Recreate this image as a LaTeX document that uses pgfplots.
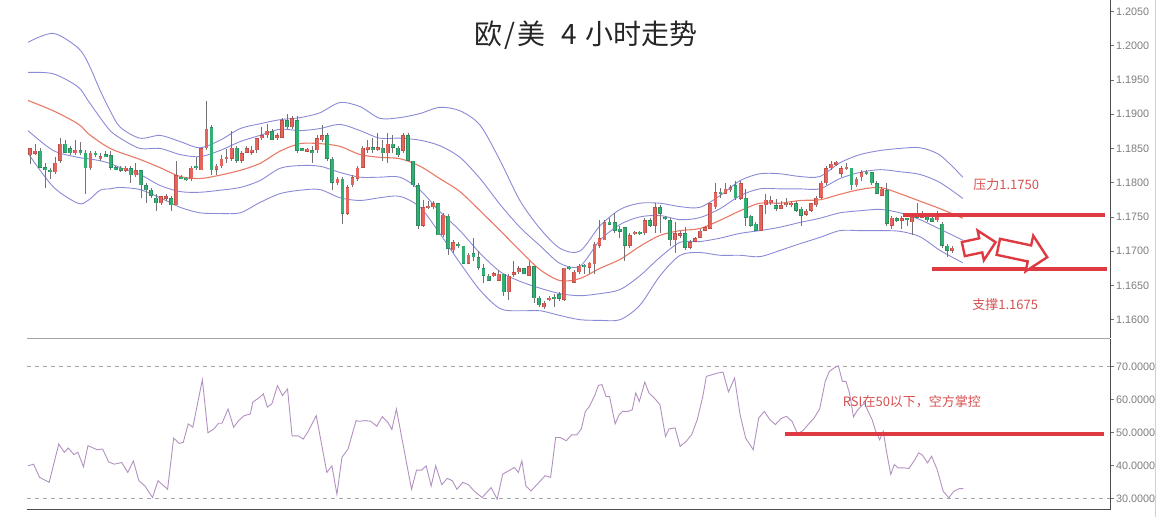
\documentclass[border=0pt]{standalone}
\usepackage{pgfplots}
\pgfplotsset{compat=1.18}
\usepackage{pgfplotstable}
\usepackage{fontspec}
\setmainfont{Liberation Sans}
\newfontfamily\cjk{Noto Sans CJK SC}
\usetikzlibrary{shapes.arrows}

\definecolor{upred}{RGB}{228,100,94}
\definecolor{upedge}{RGB}{190,78,72}
\definecolor{dngreen}{RGB}{48,176,114}
\definecolor{dnedge}{RGB}{44,138,94}
\definecolor{band}{RGB}{138,138,214}
\definecolor{ma}{RGB}{232,122,102}
\definecolor{rsiline}{RGB}{178,145,192}
\definecolor{markred}{RGB}{222,58,66}
\definecolor{note}{RGB}{214,80,80}
\definecolor{ticktext}{RGB}{125,125,125}

% candles: index, open, high, low, close
\pgfplotstableread{
i o h l c
0 1.1840 1.1851 1.1828 1.1850
1 1.1843 1.1857 1.1841 1.1846
2 1.1847 1.1850 1.1821 1.1822
3 1.1822 1.1829 1.1793 1.1819
4 1.1819 1.1822 1.1806 1.1815
5 1.1815 1.1837 1.1813 1.1829
6 1.1832 1.1865 1.1829 1.1857
7 1.1857 1.1862 1.1843 1.1844
8 1.1850 1.1854 1.1840 1.1843
9 1.1843 1.1862 1.1840 1.1848
10 1.1846 1.1860 1.1840 1.1844
11 1.1844 1.1847 1.1784 1.1821
12 1.1821 1.1847 1.1818 1.1844
13 1.1843 1.1847 1.1837 1.1841
14 1.1835 1.1843 1.1832 1.1838
15 1.1841 1.1847 1.1837 1.1838
16 1.1840 1.1847 1.1818 1.1822
17 1.1822 1.1825 1.1818 1.1819
18 1.1821 1.1824 1.1816 1.1818
19 1.1818 1.1824 1.1815 1.1821
20 1.1821 1.1824 1.1799 1.1811
21 1.1811 1.1829 1.1809 1.1818
22 1.1818 1.1818 1.1778 1.1796
23 1.1796 1.1799 1.1771 1.1789
24 1.1790 1.1793 1.1778 1.1781
25 1.1778 1.1784 1.1759 1.1770
26 1.1770 1.1781 1.1767 1.1780
27 1.1777 1.1783 1.1774 1.1780
28 1.1777 1.1780 1.1759 1.1767
29 1.1767 1.1832 1.1767 1.1811
30 1.1808 1.1811 1.1805 1.1806
31 1.1806 1.1809 1.1803 1.1805
32 1.1805 1.1825 1.1803 1.1822
33 1.1825 1.1837 1.1819 1.1821
34 1.1818 1.1851 1.1818 1.1850
35 1.1850 1.1919 1.1847 1.1879
36 1.1881 1.1884 1.1811 1.1818
37 1.1819 1.1828 1.1811 1.1825
38 1.1824 1.1840 1.1822 1.1835
39 1.1835 1.1850 1.1829 1.1837
40 1.1835 1.1876 1.1832 1.1851
41 1.1851 1.1854 1.1829 1.1832
42 1.1832 1.1847 1.1829 1.1843
43 1.1844 1.1854 1.1843 1.1850
44 1.1844 1.1853 1.1841 1.1848
45 1.1847 1.1865 1.1843 1.1865
46 1.1865 1.1881 1.1862 1.1869
47 1.1869 1.1886 1.1865 1.1876
48 1.1875 1.1878 1.1862 1.1863
49 1.1865 1.1872 1.1863 1.1869
50 1.1866 1.1894 1.1865 1.1891
51 1.1891 1.1901 1.1879 1.1881
52 1.1881 1.1898 1.1879 1.1894
53 1.1891 1.1898 1.1843 1.1847
54 1.1850 1.1851 1.1846 1.1847
55 1.1847 1.1851 1.1846 1.1848
56 1.1847 1.1853 1.1829 1.1844
57 1.1847 1.1869 1.1844 1.1865
58 1.1862 1.1884 1.1860 1.1869
59 1.1869 1.1872 1.1832 1.1835
60 1.1835 1.1837 1.1789 1.1800
61 1.1799 1.1809 1.1797 1.1806
62 1.1806 1.1809 1.1740 1.1755
63 1.1755 1.1796 1.1753 1.1793
64 1.1796 1.1811 1.1794 1.1808
65 1.1806 1.1825 1.1803 1.1822
66 1.1822 1.1854 1.1821 1.1851
67 1.1850 1.1862 1.1844 1.1851
68 1.1851 1.1866 1.1843 1.1848
69 1.1848 1.1872 1.1847 1.1851
70 1.1851 1.1862 1.1832 1.1843
71 1.1843 1.1872 1.1829 1.1857
72 1.1857 1.1869 1.1843 1.1851
73 1.1851 1.1854 1.1838 1.1840
74 1.1847 1.1872 1.1844 1.1869
75 1.1869 1.1873 1.1832 1.1832
76 1.1832 1.1832 1.1794 1.1796
77 1.1796 1.1799 1.1733 1.1737
78 1.1737 1.1774 1.1735 1.1764
79 1.1764 1.1774 1.1762 1.1765
80 1.1764 1.1774 1.1762 1.1770
81 1.1770 1.1771 1.1723 1.1723
82 1.1723 1.1756 1.1721 1.1753
83 1.1752 1.1755 1.1694 1.1704
84 1.1701 1.1716 1.1698 1.1713
85 1.1711 1.1714 1.1705 1.1707
86 1.1708 1.1708 1.1682 1.1682
87 1.1682 1.1698 1.1681 1.1695
88 1.1697 1.1720 1.1686 1.1691
89 1.1691 1.1701 1.1672 1.1676
90 1.1675 1.1682 1.1653 1.1664
91 1.1664 1.1667 1.1656 1.1657
92 1.1664 1.1669 1.1663 1.1667
93 1.1657 1.1672 1.1656 1.1667
94 1.1667 1.1667 1.1635 1.1640
95 1.1640 1.1667 1.1628 1.1664
96 1.1666 1.1686 1.1663 1.1669
97 1.1669 1.1678 1.1667 1.1675
98 1.1675 1.1676 1.1666 1.1667
99 1.1664 1.1686 1.1664 1.1678
100 1.1678 1.1679 1.1625 1.1631
101 1.1632 1.1634 1.1618 1.1621
102 1.1618 1.1628 1.1616 1.1625
103 1.1628 1.1635 1.1627 1.1632
104 1.1632 1.1638 1.1618 1.1631
105 1.1637 1.1640 1.1628 1.1631
106 1.1629 1.1676 1.1628 1.1676
107 1.1676 1.1678 1.1673 1.1675
108 1.1654 1.1672 1.1653 1.1670
109 1.1669 1.1681 1.1667 1.1679
110 1.1679 1.1682 1.1667 1.1678
111 1.1676 1.1685 1.1667 1.1683
112 1.1681 1.1713 1.1667 1.1711
113 1.1708 1.1745 1.1705 1.1719
114 1.1716 1.1745 1.1716 1.1742
115 1.1742 1.1748 1.1739 1.1740
116 1.1742 1.1756 1.1727 1.1730
117 1.1732 1.1737 1.1720 1.1729
118 1.1735 1.1735 1.1686 1.1708
119 1.1708 1.1727 1.1705 1.1723
120 1.1726 1.1730 1.1723 1.1727
121 1.1727 1.1730 1.1724 1.1726
122 1.1726 1.1749 1.1723 1.1745
123 1.1745 1.1748 1.1736 1.1737
124 1.1737 1.1771 1.1726 1.1764
125 1.1764 1.1767 1.1726 1.1755
126 1.1749 1.1752 1.1745 1.1748
127 1.1745 1.1749 1.1708 1.1716
128 1.1716 1.1742 1.1698 1.1726
129 1.1723 1.1730 1.1719 1.1726
130 1.1726 1.1735 1.1701 1.1705
131 1.1705 1.1716 1.1704 1.1713
132 1.1714 1.1721 1.1713 1.1719
133 1.1720 1.1732 1.1719 1.1730
134 1.1730 1.1737 1.1729 1.1735
135 1.1733 1.1771 1.1732 1.1770
136 1.1764 1.1799 1.1762 1.1786
137 1.1786 1.1793 1.1778 1.1784
138 1.1784 1.1800 1.1783 1.1791
139 1.1789 1.1796 1.1787 1.1793
140 1.1796 1.1803 1.1774 1.1777
141 1.1777 1.1803 1.1775 1.1799
142 1.1778 1.1791 1.1737 1.1749
143 1.1752 1.1753 1.1735 1.1737
144 1.1740 1.1742 1.1729 1.1730
145 1.1730 1.1768 1.1729 1.1767
146 1.1767 1.1784 1.1755 1.1775
147 1.1770 1.1781 1.1768 1.1775
148 1.1767 1.1777 1.1759 1.1762
149 1.1762 1.1774 1.1761 1.1767
150 1.1767 1.1777 1.1764 1.1771
151 1.1767 1.1774 1.1765 1.1771
152 1.1770 1.1773 1.1758 1.1759
153 1.1762 1.1765 1.1737 1.1752
154 1.1753 1.1762 1.1752 1.1759
155 1.1759 1.1771 1.1758 1.1770
156 1.1767 1.1781 1.1765 1.1778
157 1.1778 1.1802 1.1777 1.1800
158 1.1799 1.1824 1.1797 1.1821
159 1.1821 1.1831 1.1819 1.1828
160 1.1828 1.1832 1.1825 1.1829
161 1.1813 1.1825 1.1808 1.1821
162 1.1821 1.1829 1.1818 1.1822
163 1.1822 1.1822 1.1789 1.1796
164 1.1796 1.1809 1.1794 1.1806
165 1.1808 1.1818 1.1803 1.1815
166 1.1815 1.1818 1.1812 1.1813
167 1.1815 1.1816 1.1797 1.1799
168 1.1799 1.1803 1.1784 1.1784
169 1.1781 1.1794 1.1780 1.1791
170 1.1789 1.1800 1.1737 1.1740
171 1.1737 1.1752 1.1733 1.1749
172 1.1748 1.1750 1.1743 1.1745
173 1.1745 1.1752 1.1733 1.1748
174 1.1748 1.1749 1.1737 1.1746
175 1.1742 1.1755 1.1723 1.1752
176 1.1752 1.1771 1.1748 1.1750
177 1.1750 1.1759 1.1748 1.1752
178 1.1752 1.1755 1.1743 1.1745
179 1.1749 1.1752 1.1742 1.1743
180 1.1745 1.1759 1.1743 1.1756
181 1.1740 1.1742 1.1705 1.1708
182 1.1708 1.1711 1.1691 1.1701
183 1.1701 1.1708 1.1697 1.1705
}\candles

% bollinger bands: outer up, inner up, middle, inner down, outer down
\pgfplotstableread{
i op ip m im om
-0.4 1.2005 1.1961 1.1920 1.1876 1.1843
4.6 1.2018 1.1959 1.1905 1.1847 1.1794
9.5 1.1997 1.1940 1.1886 1.1837 1.1770
11.5 1.1975 1.1920 1.1872 1.1835 1.1774
13.9 1.1935 1.1895 1.1859 1.1832 1.1789
15.9 1.1905 1.1876 1.1850 1.1828 1.1791
17.9 1.1881 1.1865 1.1844 1.1822 1.1793
21.8 1.1865 1.1850 1.1834 1.1812 1.1790
25.8 1.1869 1.1850 1.1822 1.1796 1.1778
29.8 1.1860 1.1841 1.1809 1.1787 1.1764
33.7 1.1851 1.1838 1.1806 1.1786 1.1756
37.7 1.1862 1.1847 1.1811 1.1789 1.1755
41.7 1.1879 1.1860 1.1818 1.1793 1.1756
45.6 1.1886 1.1869 1.1828 1.1803 1.1771
49.6 1.1892 1.1878 1.1846 1.1821 1.1784
53.6 1.1895 1.1876 1.1857 1.1825 1.1789
57.5 1.1902 1.1879 1.1857 1.1824 1.1790
61.5 1.1917 1.1885 1.1853 1.1815 1.1778
65.5 1.1911 1.1876 1.1841 1.1808 1.1774
69.4 1.1894 1.1865 1.1837 1.1808 1.1778
73.4 1.1895 1.1865 1.1835 1.1808 1.1780
77.4 1.1901 1.1862 1.1824 1.1789 1.1764
81.3 1.1910 1.1854 1.1806 1.1758 1.1726
85.3 1.1905 1.1837 1.1787 1.1730 1.1683
89.3 1.1884 1.1806 1.1759 1.1697 1.1643
93.3 1.1832 1.1768 1.1730 1.1670 1.1616
97.2 1.1774 1.1735 1.1701 1.1656 1.1613
101.2 1.1733 1.1708 1.1673 1.1646 1.1613
105.2 1.1704 1.1682 1.1657 1.1638 1.1606
109.1 1.1700 1.1678 1.1660 1.1635 1.1600
113.1 1.1737 1.1716 1.1675 1.1638 1.1599
117.1 1.1761 1.1739 1.1688 1.1644 1.1600
121.0 1.1770 1.1750 1.1707 1.1664 1.1621
125.0 1.1770 1.1752 1.1723 1.1691 1.1664
129.0 1.1765 1.1746 1.1730 1.1713 1.1694
132.9 1.1764 1.1749 1.1733 1.1714 1.1698
136.9 1.1781 1.1762 1.1745 1.1719 1.1694
140.9 1.1803 1.1781 1.1759 1.1726 1.1694
144.8 1.1813 1.1791 1.1770 1.1730 1.1692
148.8 1.1813 1.1791 1.1770 1.1735 1.1701
152.8 1.1809 1.1791 1.1774 1.1742 1.1711
156.7 1.1809 1.1791 1.1775 1.1748 1.1720
160.7 1.1829 1.1806 1.1783 1.1756 1.1730
164.7 1.1841 1.1815 1.1790 1.1759 1.1730
168.7 1.1847 1.1819 1.1793 1.1761 1.1730
172.6 1.1850 1.1816 1.1784 1.1756 1.1729
176.6 1.1851 1.1812 1.1773 1.1746 1.1721
180.6 1.1840 1.1800 1.1762 1.1732 1.1701
185.1 1.1808 1.1777 1.1748 1.1716 1.1683
}\bands

% RSI
\pgfplotstableread{
i r
-0.4 39.9
0.7 40.4
1.9 36.4
3.8 34.9
5.7 46.5
6.8 44.0
7.6 45.3
8.7 43.3
9.5 44.0
10.6 39.6
11.5 46.0
13.3 44.8
14.4 45.0
15.6 41.1
16.7 40.4
18.2 40.9
19.4 37.9
20.5 41.4
21.6 35.4
22.8 33.8
24.3 30.3
25.4 35.4
27.3 32.8
28.5 48.3
29.6 46.7
30.4 47.0
31.4 52.6
32.3 51.6
34.2 66.0
35.3 49.9
36.5 51.1
37.4 52.8
38.1 52.8
39.3 57.1
40.4 51.6
41.4 53.6
42.5 55.1
43.7 55.6
44.2 59.2
45.6 60.7
46.3 61.7
47.1 57.7
48.0 58.7
49.1 64.2
50.1 61.2
51.1 63.2
52.0 49.0
53.2 49.0
54.2 48.0
55.1 50.1
56.8 55.1
58.9 37.9
59.9 39.9
60.9 31.3
61.9 42.5
63.1 45.0
64.7 53.6
65.3 53.4
66.5 53.6
67.6 53.4
68.8 51.9
69.9 54.8
71.0 53.1
71.8 50.9
72.7 57.1
74.5 42.5
75.7 32.8
76.7 38.6
77.7 38.6
78.6 39.9
79.6 33.8
80.5 39.9
81.7 34.2
82.8 36.1
83.8 35.4
84.7 32.8
85.9 34.9
87.0 34.2
88.1 32.3
89.7 30.3
91.5 33.3
92.7 29.8
93.8 37.4
95.0 38.4
96.1 39.4
96.9 37.9
97.6 41.4
98.4 33.8
99.4 32.3
100.7 34.4
102.2 36.9
103.3 36.4
104.3 48.5
105.2 48.5
106.4 47.5
107.5 49.3
108.5 49.3
109.4 51.1
110.2 56.4
111.0 57.9
112.1 61.4
112.8 64.3
113.5 64.5
114.3 60.9
115.0 60.9
116.1 52.6
116.9 55.4
117.6 56.4
118.7 56.4
119.5 56.9
120.2 62.0
120.9 59.4
122.0 65.3
122.8 62.0
123.9 60.4
125.0 58.4
126.1 48.8
126.8 51.1
128.0 51.4
129.0 45.8
130.2 47.3
131.3 49.4
132.4 53.9
133.5 60.9
134.2 67.0
135.3 67.5
136.4 68.0
137.5 68.3
138.6 62.3
139.8 66.5
140.9 55.4
142.0 48.3
143.5 44.8
144.6 54.4
145.7 56.4
146.8 53.9
147.9 52.4
149.0 54.2
150.1 54.9
151.2 53.4
152.3 49.6
153.4 50.6
154.5 52.6
155.6 54.4
156.7 57.2
157.8 65.5
158.6 68.5
159.7 69.7
160.4 70.2
161.2 65.5
161.9 65.5
162.6 62.0
163.4 54.7
164.1 56.6
164.9 57.9
165.6 58.9
166.3 56.4
167.1 53.9
167.8 50.4
168.6 47.8
169.3 50.4
170.0 43.8
170.8 37.3
171.5 40.3
172.2 39.3
173.3 39.3
174.4 39.1
175.6 41.8
176.3 43.8
177.0 43.3
178.1 40.8
178.9 42.8
180.0 38.8
181.2 32.2
182.3 30.2
183.3 32.2
184.4 33.0
185.2 33.0
}\rsidata

\pgfplotsset{
  panel/.style={
    scale only axis, width=1083pt,
    xmin=-0.6, xmax=214.3,
    axis x line*=bottom, axis y line*=right,
    axis line style={-},
    xtick=\empty,
    tick align=outside, major tick length=3.5pt,
    ytick style={draw=black!55, line width=0.6pt},
    yticklabel style={font=\fontsize{10.8}{11}\selectfont, text=ticktext, xshift=-1pt},
    y axis line style={draw=black!70, line width=0.9pt},
    clip=false,
  },
  wick/.style={draw=none, mark=none, forget plot,
    error bars/y dir=both, error bars/y explicit, error bars/error mark=none,
    error bars/error bar style={line width=0.75pt, draw=black!55}},
  body/.style={draw=none, mark=none, forget plot,
    error bars/y dir=both, error bars/y explicit, error bars/error mark=none,
    error bars/error bar style={line width=#1}},
}

\begin{document}
\begin{tikzpicture}

% price panel
\begin{axis}[panel,
  at={(27pt,178pt)}, anchor=south west, height=338pt,
  ymin=1.15725, ymax=1.2066,
  ytick={1.16,1.165,1.17,1.175,1.18,1.185,1.19,1.195,1.2,1.205},
  yticklabels={1.1600,1.1650,1.1700,1.1750,1.1800,1.1850,1.1900,1.1950,1.2000,1.2050},
  x axis line style={draw=black!35, line width=1.8pt},
]
\addplot[band, line width=0.9pt, smooth, tension=0.5] table[x=i, y=op] {\bands};
\addplot[band, line width=0.9pt, smooth, tension=0.5] table[x=i, y=ip] {\bands};
\addplot[ma, line width=1.1pt, smooth, tension=0.5] table[x=i, y=m] {\bands};
\addplot[band, line width=0.9pt, smooth, tension=0.5] table[x=i, y=im] {\bands};
\addplot[band, line width=0.9pt, smooth, tension=0.5] table[x=i, y=om] {\bands};

\addplot[wick] table[x=i, y expr=(\thisrow{h}+\thisrow{l})/2,
  y error expr=(\thisrow{h}-\thisrow{l})/2] {\candles};
% rising candles (red)
\addplot[body=3.8pt, restrict expr to domain={\thisrow{c}-\thisrow{o}}{0:1},
  error bars/error bar style={draw=upedge}]
  table[x=i, y expr=(\thisrow{o}+\thisrow{c})/2,
  y error expr={max(abs(\thisrow{c}-\thisrow{o})/2,0.0002)}] {\candles};
\addplot[body=2.8pt, restrict expr to domain={\thisrow{c}-\thisrow{o}}{0:1},
  error bars/error bar style={draw=upred}]
  table[x=i, y expr=(\thisrow{o}+\thisrow{c})/2,
  y error expr={max(abs(\thisrow{c}-\thisrow{o})/2-0.00006,0.00013)}] {\candles};
% falling candles (green)
\addplot[body=3.8pt, restrict expr to domain={\thisrow{c}-\thisrow{o}}{-1:-0.000001},
  error bars/error bar style={draw=dnedge}]
  table[x=i, y expr=(\thisrow{o}+\thisrow{c})/2,
  y error expr={max(abs(\thisrow{c}-\thisrow{o})/2,0.0002)}] {\candles};
\addplot[body=2.8pt, restrict expr to domain={\thisrow{c}-\thisrow{o}}{-1:-0.000001},
  error bars/error bar style={draw=dngreen}]
  table[x=i, y expr=(\thisrow{o}+\thisrow{c})/2,
  y error expr={max(abs(\thisrow{c}-\thisrow{o})/2-0.00006,0.00013)}] {\candles};

% resistance and support
\addplot[markred, line width=3.8pt] coordinates {(173.2,1.1753) (213.3,1.1753)};
\addplot[markred, line width=3.8pt] coordinates {(179.0,1.1674) (213.7,1.1674)};
\node[font=\cjk\fontsize{13}{13}\selectfont, text=note] at (axis cs:193.7,1.1797) {压力1.1750};
\node[font=\cjk\fontsize{13}{13}\selectfont, text=note] at (axis cs:193.5,1.1622) {支撑1.1675};
\node[single arrow, draw=markred, fill=white, line width=2.4pt, inner sep=6pt,
  minimum height=33pt, single arrow head extend=8pt, rotate=12]
  at (axis cs:187.7,1.1707) {};
\node[single arrow, draw=markred, fill=white, line width=2.4pt, inner sep=7pt,
  minimum height=50pt, single arrow head extend=10pt, rotate=-12]
  at (axis cs:196.2,1.1700) {};
\end{axis}

% RSI panel
\begin{axis}[panel,
  at={(27pt,7pt)}, anchor=south west, height=171pt,
  ymin=26.67, ymax=78.48,
  ytick={30,40,50,60,70},
  yticklabels={30.0000,40.0000,50.0000,60.0000,70.0000},
  x axis line style={draw=black!70, line width=0.9pt},
]
\addplot[black!35, line width=0.9pt, dash pattern=on 4pt off 4pt] coordinates {(-0.6,70) (214.3,70)};
\addplot[black!35, line width=0.9pt, dash pattern=on 4pt off 4pt] coordinates {(-0.6,30) (214.3,30)};
\addplot[rsiline, line width=0.9pt] table[x=i, y=r] {\rsidata};
\addplot[markred, line width=3.8pt] coordinates {(149.8,49.6) (213.1,49.6)};
\node[font=\cjk\fontsize{13}{13}\selectfont, text=note] at (axis cs:175.0,59.4) {RSI在50以下，空方掌控};
\end{axis}

% title and frame
\node[font=\cjk\fontsize{28}{28}\selectfont, text=black!85] at (586pt,481pt)
  {欧\hspace{2pt}/\hspace{2pt}美\hspace{16pt}4\hspace{9pt}小时走势};
\draw[black!18, line width=1pt] (1155pt,0pt) -- (1155pt,516pt);
\path (0pt,0pt) rectangle (1162pt,516pt);
\end{tikzpicture}
\end{document}
